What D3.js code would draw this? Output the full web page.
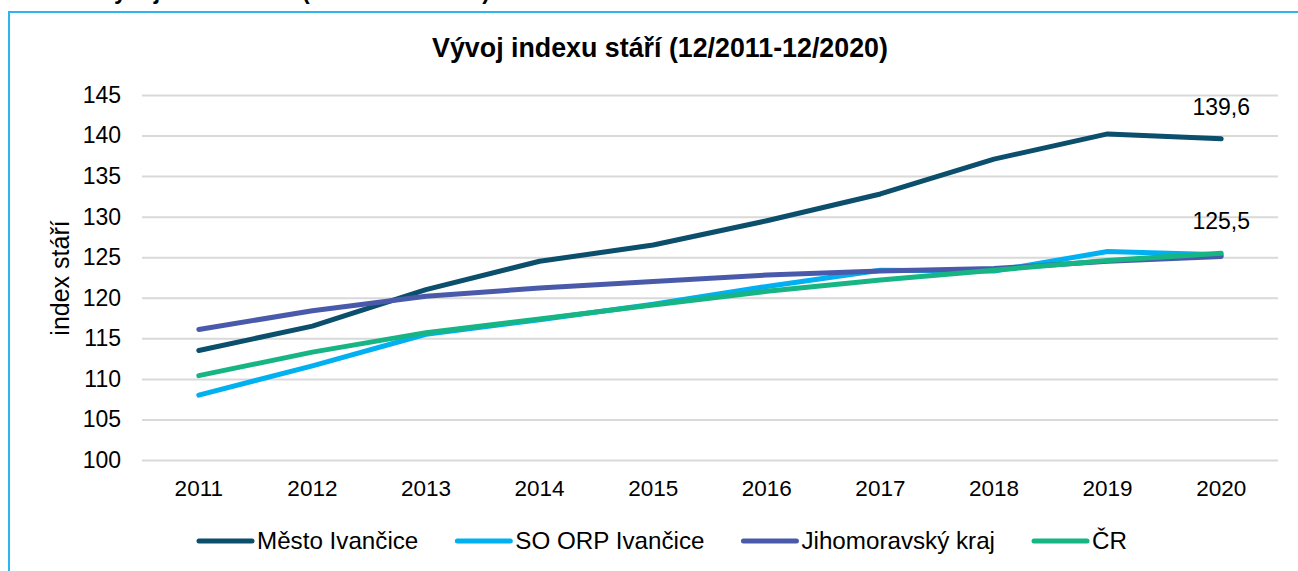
<!DOCTYPE html>
<html>
<head>
<meta charset="utf-8">
<script src="https://cdn.jsdelivr.net/npm/d3@7"></script>
<style>
  html, body { margin: 0; padding: 0; background: #fff; overflow: hidden; }
  svg { display: block; font-family: "Liberation Sans", Arial, sans-serif; }
</style>
</head>
<body>
<svg id="chart" width="1298" height="571"></svg>
<script>
const years = ["2011","2012","2013","2014","2015","2016","2017","2018","2019","2020"];
const mesto = [113.5, 116.5, 121.0, 124.5, 126.5, 129.5, 132.8, 137.1, 140.2, 139.6];
const soOrp = [108.0, 111.6, 115.5, 117.3, 119.2, 121.4, 123.4, 123.3, 125.7, 125.3];
const jmk   = [116.1, 118.4, 120.2, 121.2, 122.0, 122.8, 123.3, 123.6, 124.5, 125.1];
const cr    = [110.4, 113.3, 115.7, 117.4, 119.1, 120.8, 122.2, 123.4, 124.6, 125.5];
const yTicks = [100, 105, 110, 115, 120, 125, 130, 135, 140, 145];
const seriesNames = ["Město Ivančice", "SO ORP Ivančice", "Jihomoravský kraj", "ČR"];
const seriesColors = ["#0b4f6c", "#00b0f0", "#4a5aab", "#17b584"];
const seriesValues = [mesto, soOrp, jmk, cr];
const labelled = [{series: 0, index: 9, text: "139,6"}, {series: 3, index: 9, text: "125,5"}];

const svg = d3.select("#chart");

// outer frame
svg.append("rect").attr("x", 9).attr("y", 12).attr("width", 1320).attr("height", 600)
  .attr("fill", "none").attr("stroke", "#2cb5ee").attr("stroke-width", 2);

// caption above the frame (cut by the top edge, as in the source)
svg.append("text").attr("x", 490).attr("y", -1).attr("text-anchor", "end")
  .attr("font-size", 23).attr("font-weight", "bold").attr("fill", "#000")
  .text("Vývoj indexu stáří (12/2011-12/2020)");

const pLeft = 142, pRight = 1278, pTop = 95, pBottom = 460;
const x = d3.scaleBand().domain(years).range([pLeft, pRight]);
const y = d3.scaleLinear().domain([100, 145]).range([pBottom, pTop]);
const cx = d => x(d) + x.bandwidth() / 2;

// title
svg.append("text").attr("x", 660).attr("y", 57).attr("text-anchor", "middle")
  .attr("font-size", 26.8).attr("font-weight", "bold").attr("fill", "#000")
  .text("Vývoj indexu stáří (12/2011-12/2020)");

// gridlines + y axis labels
const yAxis = d3.axisLeft(y).tickValues(yTicks).tickSize(-(pRight - pLeft)).tickPadding(21)
  .tickFormat(d3.format("d"));
const gy = svg.append("g").attr("transform", `translate(${pLeft},0)`).call(yAxis);
gy.select(".domain").remove();
gy.selectAll(".tick line").attr("stroke", "#d9d9d9").attr("stroke-width", 2);
gy.selectAll(".tick text").attr("font-size", 23).attr("fill", "#000")
  .attr("font-family", "Liberation Sans, Arial, sans-serif");

// x axis labels
const xAxis = d3.axisBottom(x).tickSize(0).tickPadding(20);
const gx = svg.append("g").attr("transform", `translate(0,${pBottom})`).call(xAxis);
gx.select(".domain").remove();
gx.selectAll(".tick text").attr("font-size", 22.5).attr("fill", "#000")
  .attr("font-family", "Liberation Sans, Arial, sans-serif");

// y axis title
svg.append("text").attr("transform", "translate(69,278) rotate(-90)")
  .attr("text-anchor", "middle").attr("font-size", 25).attr("fill", "#000")
  .text("index stáří");

// lines
const line = d3.line().x((d, i) => cx(years[i])).y(d => y(d));
seriesValues.forEach((vals, k) => {
  svg.append("path").datum(vals).attr("d", line)
    .attr("fill", "none").attr("stroke", seriesColors[k]).attr("stroke-width", 5)
    .attr("stroke-linecap", "round").attr("stroke-linejoin", "round");
});

// data labels
labelled.forEach(l => {
  const v = seriesValues[l.series][l.index];
  svg.append("text").attr("x", cx(years[l.index])).attr("y", y(v) - 24)
    .attr("text-anchor", "middle").attr("font-size", 23).attr("fill", "#000")
    .text(l.text);
});

// legend
const lg = svg.append("g");
let lx = 199;
const ly = 541;
seriesNames.forEach((name, k) => {
  lg.append("line").attr("x1", lx).attr("x2", lx + 53).attr("y1", ly).attr("y2", ly)
    .attr("stroke", seriesColors[k]).attr("stroke-width", 5).attr("stroke-linecap", "round");
  const t = lg.append("text").attr("x", lx + 58).attr("y", ly).attr("dy", "0.35em")
    .attr("font-size", 24.2).attr("fill", "#000").text(name);
  lx = lx + 58 + t.node().getComputedTextLength() + 39;
});
</script>
</body>
</html>
